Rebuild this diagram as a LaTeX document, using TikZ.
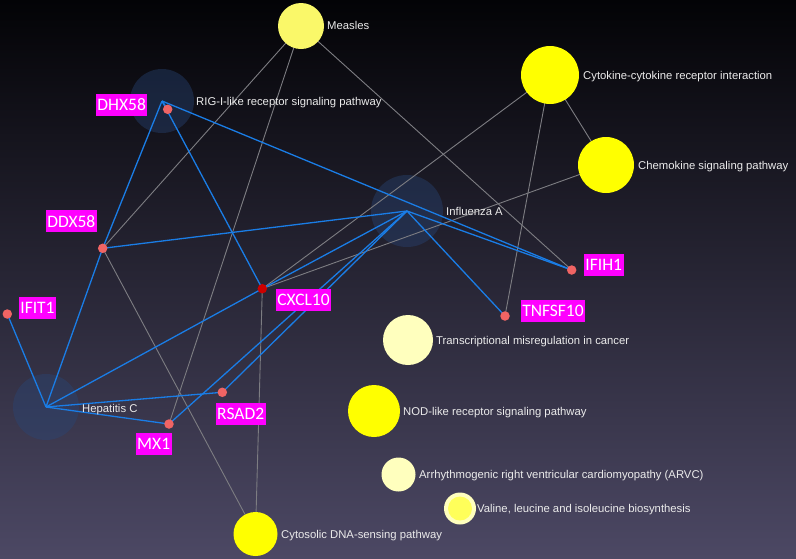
\documentclass[tikz,border=0pt]{standalone}
\usepackage{fontspec}
\setmainfont{Liberation Sans}
\newfontfamily\genefont{Carlito}
\definecolor{bgtop}{RGB}{3,3,6}
\definecolor{bgmid}{RGB}{24,23,34}
\definecolor{bgbot}{RGB}{76,72,100}
\definecolor{hubblue}{RGB}{40,70,120}
\definecolor{edgeblue}{RGB}{26,125,230}
\definecolor{edgegray}{RGB}{125,125,130}
\definecolor{dotred}{RGB}{240,100,100}
\definecolor{dotdark}{RGB}{205,0,0}
\definecolor{ybright}{RGB}{255,255,0}
\definecolor{ymeasles}{RGB}{250,248,105}
\definecolor{ypale}{RGB}{255,255,190}
\definecolor{yinner}{RGB}{255,255,90}
\definecolor{genemag}{RGB}{255,0,255}
\definecolor{labwhite}{RGB}{235,235,235}
\pgfdeclarelayer{bglayer}
\pgfdeclarelayer{edgelayer}
\pgfsetlayers{bglayer,edgelayer,main}
\begin{document}
\begin{tikzpicture}[x=1pt,y=-1pt,
  pw/.style={circle,inner sep=0pt,minimum size=#1},
  hubc/.style={circle,inner sep=0pt,minimum size=#1,fill=hubblue,fill opacity=0.4},
  gdot/.style={circle,inner sep=0pt,minimum size=9.5pt,fill=dotred},
  glab/.style={fill=genemag,text=white,font=\genefont\fontsize{17.5}{17.5}\selectfont,inner xsep=1.5pt,inner ysep=0pt,minimum height=22pt},
  plab/.style={anchor=west,text=labwhite,font=\fontsize{11.3}{11.3}\selectfont,inner sep=0pt,text height=8pt,text depth=0pt},
  bedge/.style={draw=edgeblue,line width=1.3pt},
  gedge/.style={draw=edgegray,line width=0.9pt}]
\useasboundingbox (0,0) rectangle (796,558);
\begin{pgfonlayer}{bglayer}
\shade[top color=bgtop,middle color=bgmid,bottom color=bgbot] (0,0) rectangle (796,558);
\node[hubc=64pt] (rig) at (162,101) {};
\node[hubc=72pt] (flu) at (407,211) {};
\node[hubc=66pt] (hepc) at (46,407) {};
\end{pgfonlayer}

% pathway circles
\node[pw=46pt,fill=ymeasles] (measles) at (301,26) {};
\node[pw=58pt,fill=ybright] (cytokine) at (550,75) {};
\node[pw=56pt,fill=ybright] (chemokine) at (606,165) {};
\node[pw=50pt,fill=ypale] (transc) at (408,340) {};
\node[pw=52pt,fill=ybright] (nod) at (374,411) {};
\node[pw=34pt,fill=ypale] (arvc) at (398.5,474.5) {};
\node[pw=32pt,fill=ypale] (valine) at (460,508.5) {};
\node[pw=24pt,fill=yinner] (valinein) at (460,508.5) {};
\node[pw=44pt,fill=ybright] (cytosolic) at (255.5,534) {};

% gene dots
\node[gdot] (dhx58) at (167.7,109.3) {};
\node[gdot] (ddx58) at (102.7,248.3) {};
\node[gdot] (ifit1) at (7.3,314) {};
\node[gdot,fill=dotdark] (cxcl10) at (262.3,288.7) {};
\node[gdot] (rsad2) at (222.3,392.3) {};
\node[gdot] (mx1) at (169,424) {};
\node[gdot] (ifih1) at (571.7,270) {};
\node[gdot] (tnfsf10) at (505,316) {};

% edges
\begin{pgfonlayer}{edgelayer}
\foreach \a/\b in {measles/ddx58,measles/mx1,measles/ifih1,ddx58/cytosolic,cxcl10/cytosolic,cxcl10/cytokine,cxcl10/chemokine,tnfsf10/cytokine,cytokine/chemokine}
  \draw[gedge] (\a.center) -- (\b.center);
\foreach \a/\b in {rig/dhx58,rig/ddx58,rig/cxcl10,rig/ifih1,flu/ddx58,flu/cxcl10,flu/ifih1,flu/tnfsf10,flu/rsad2,flu/mx1,hepc/ifit1,hepc/ddx58,hepc/cxcl10,hepc/rsad2,hepc/mx1}
  \draw[bedge] (\a.center) -- (\b.center);
\end{pgfonlayer}

% gene labels
\node[glab] (lDHX58) at (121.7,105) {DHX58};
\node[glab] (lDDX58) at (71.3,221.3) {DDX58};
\node[glab] (lIFIT1) at (37.5,308) {IFIT1};
\node[glab] (lCXCL10) at (303.5,300) {CXCL10};
\node[glab] (lRSAD2) at (240.7,413.5) {RSAD2};
\node[glab] (lMX1) at (153.7,443.5) {MX1};
\node[glab] (lIFIH1) at (603.8,265) {IFIH1};
\node[glab] (lTNFSF10) at (553,311.3) {TNFSF10};

% pathway labels
\node[plab] (tMeasles) at (327,25) {Measles};
\node[plab] (tRig) at (196,101) {RIG-I-like receptor signaling pathway};
\node[plab] (tCyto) at (583,75) {Cytokine-cytokine receptor interaction};
\node[plab] (tChemo) at (638,165) {Chemokine signaling pathway};
\node[plab] (tFlu) at (446,211) {Influenza A};
\node[plab] (tHepc) at (82,408) {Hepatitis C};
\node[plab] (tTransc) at (436,340) {Transcriptional misregulation in cancer};
\node[plab] (tNod) at (403,411) {NOD-like receptor signaling pathway};
\node[plab] (tArvc) at (419,474) {Arrhythmogenic right ventricular cardiomyopathy (ARVC)};
\node[plab] (tVal) at (477,508.5) {Valine, leucine and isoleucine biosynthesis};
\node[plab] (tCytosolic) at (281,534) {Cytosolic DNA-sensing pathway};
\end{tikzpicture}
\end{document}
